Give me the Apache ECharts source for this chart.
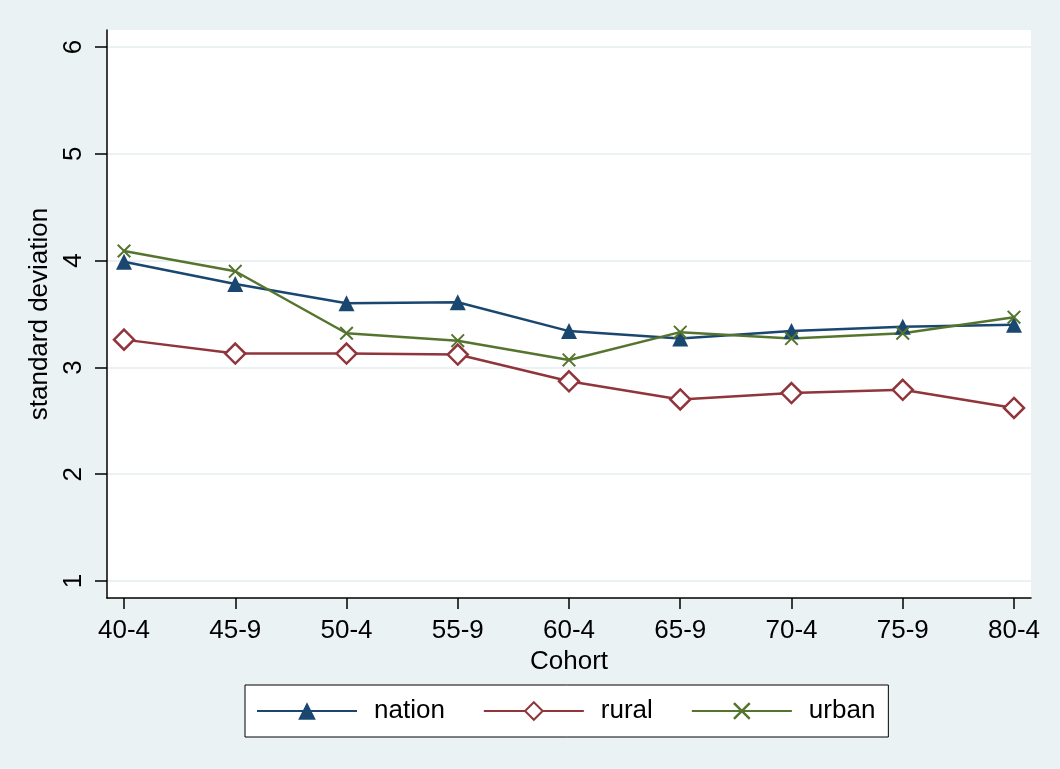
<!DOCTYPE html>
<html>
<head>
<meta charset="utf-8">
<script src="https://cdn.jsdelivr.net/npm/echarts@6/dist/echarts.min.js"></script>
<style>
  html, body { margin: 0; padding: 0; background: #EAF2F3; }
  #chart { width: 1060px; height: 769px; }
</style>
</head>
<body>
<div id="chart"></div>
<script>
  // cohorts on the x axis
  var cohorts = ['40-4', '45-9', '50-4', '55-9', '60-4', '65-9', '70-4', '75-9', '80-4'];
  var yTicks = [1, 2, 3, 4, 5, 6];
  var nation = [3.99, 3.78, 3.60, 3.61, 3.34, 3.27, 3.34, 3.38, 3.40];
  var rural = [3.26, 3.13, 3.13, 3.12, 2.87, 2.70, 2.76, 2.79, 2.62];
  var urban = [4.09, 3.90, 3.32, 3.25, 3.07, 3.33, 3.27, 3.32, 3.47];

  function pts(arr) {
    return arr.map(function (v, i) { return [i, v]; });
  }
  var xIdx = cohorts.map(function (c, i) { return i; });

  var font = '"Liberation Sans", Arial, sans-serif';
  var fs = 26;
  var crossPath = 'path://M0,1L1,0L5,4L9,0L10,1L6,5L10,9L9,10L5,6L1,10L0,9L4,5Z';

  var chart = echarts.init(document.getElementById('chart'));
  var option = {
    backgroundColor: '#EAF2F3',
    animation: false,
    textStyle: { fontFamily: font },
    grid: {
      left: 107, right: 29, top: 30, bottom: 171,
      show: true, backgroundColor: '#ffffff', borderWidth: 0
    },
    xAxis: {
      type: 'value',
      min: -0.153,
      max: 8.153,
      name: 'Cohort',
      nameLocation: 'middle',
      nameGap: 43,
      nameTextStyle: { fontSize: fs, color: '#000', fontFamily: font },
      axisLine: { show: true, onZero: false, lineStyle: { color: '#000', width: 1.5 } },
      axisTick: { show: true, length: 11, customValues: xIdx, lineStyle: { color: '#000', width: 1.5 } },
      axisLabel: {
        customValues: xIdx,
        fontSize: fs, color: '#000', margin: 20, fontFamily: font,
        formatter: function (v) { return cohorts[Math.round(v)]; }
      },
      splitLine: { show: false }
    },
    yAxis: {
      type: 'value',
      min: 0.841,
      max: 6.159,
      name: 'standard deviation',
      nameLocation: 'middle',
      nameGap: 45,
      nameTextStyle: { fontSize: fs, color: '#000', fontFamily: font },
      axisLine: { show: true, onZero: false, lineStyle: { color: '#000', width: 1.5 } },
      axisTick: { show: true, length: 12, customValues: yTicks, lineStyle: { color: '#000', width: 1.5 } },
      axisLabel: { customValues: yTicks, rotate: 90, fontSize: fs, color: '#000', margin: 20, fontFamily: font },
      splitLine: { show: true, lineStyle: { color: '#EAF2F3', width: 2 } }
    },
    legend: {
      left: 245,
      top: 685,
      padding: [13, 13, 13, 11],
      backgroundColor: '#ffffff',
      borderColor: '#000',
      borderWidth: 1,
      borderRadius: 0,
      itemWidth: 100,
      itemHeight: 22,
      itemGap: 38,
      textStyle: { fontSize: fs, color: '#000', fontFamily: font, padding: [0, 0, 0, 12] },
      data: ['nation', 'rural', 'urban']
    },
    series: [
      {
        name: 'nation',
        type: 'line',
        data: pts(nation),
        symbol: 'triangle',
        symbolSize: 16,
        lineStyle: { color: '#1A476F', width: 2.5 },
        itemStyle: { color: '#1A476F' }
      },
      {
        name: 'rural',
        type: 'line',
        data: pts(rural),
        symbol: 'diamond',
        symbolSize: 20,
        lineStyle: { color: '#90353B', width: 2.5 },
        itemStyle: { color: '#ffffff', borderColor: '#90353B', borderWidth: 2.5 }
      },
      {
        name: 'urban',
        type: 'line',
        data: pts(urban),
        symbol: crossPath,
        symbolSize: 14,
        lineStyle: { color: '#55752F', width: 2.5 },
        itemStyle: { color: '#55752F' }
      }
    ]
  };
  chart.setOption(option);
</script>
</body>
</html>
